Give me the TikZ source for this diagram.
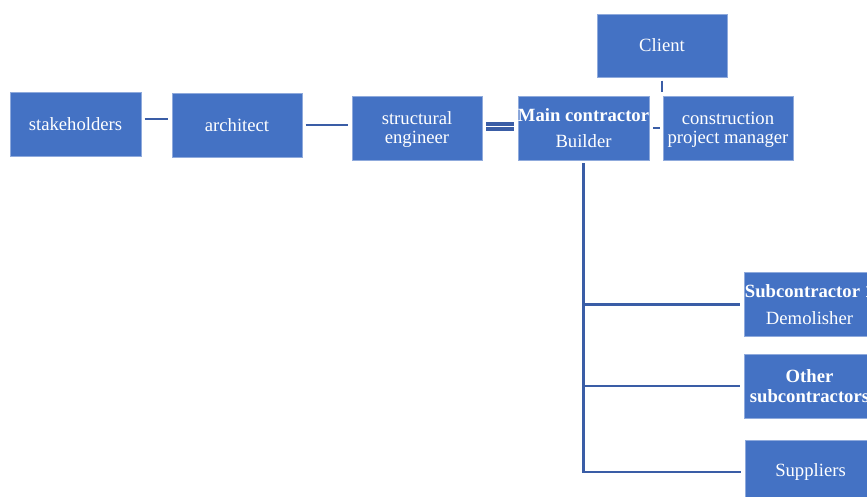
\documentclass[tikz,border=0pt]{standalone}
\usepackage{fontspec}
\setmainfont{Liberation Serif}
\definecolor{boxblue}{HTML}{4472C4}
\definecolor{boxedge}{HTML}{8FAADC}
\definecolor{linkblue}{HTML}{3A5DA6}
\begin{document}
\begin{tikzpicture}[x=0.75pt,y=-0.75pt,
  orgbox/.style={draw=boxedge,line width=0.5pt,fill=boxblue,text=white,inner sep=0pt,align=center,
    minimum width=97.5pt,minimum height=48pt,font=\fontsize{14}{14.5}\selectfont},
  link/.style={draw=linkblue,line width=2pt,shorten <=2.5pt,shorten >=2.5pt},
  branch/.style={draw=linkblue,line width=1.8pt}]
\clip (0,0) rectangle (867,496);
\useasboundingbox (0,0) rectangle (867,496);
\fill[white] (0,0) rectangle (867,496);
\node[orgbox,minimum width=98pt] (sh) at (75.5,124) {stakeholders};
\node[orgbox] (ar) at (237,125) {architect};
\node[orgbox] (se) at (417,128) {\rule{0pt}{12pt}structural\\engineer};
\node[orgbox,minimum width=98pt,font=\fontsize{14}{20}\selectfont] (mc) at (583.5,128) {\textbf{Main contractor}\\Builder};
\node[orgbox] (pm) at (728,128) {\rule{0pt}{12pt}construction\\project manager};
\node[orgbox,minimum height=47pt] (cl) at (662,45.5) {Client};
\node[orgbox,minimum width=98pt,font=\fontsize{14}{20}\selectfont] (s1) at (809.5,304.5) {\textbf{Subcontractor 1}\\Demolisher};
\node[orgbox,minimum width=98pt] (os) at (809.5,386) {\textbf{Other}\\\textbf{subcontractors}};
\node[orgbox,minimum width=98pt] (su) at (810.5,472) {Suppliers};
% horizontal chain
\draw[link] ([yshift=3.75pt]sh.east) -- ([yshift=3.75pt]sh.east -| ar.west);
\draw[link] (ar.east) -- (ar.east -| se.west);
\draw[draw=linkblue,line width=3.2pt,double=white,double distance=0.7pt,shorten <=3pt,shorten >=2.5pt] ([yshift=1pt]se.east) -- ([yshift=1pt]mc.west);
\draw[link,shorten <=3pt,shorten >=2.3pt] (mc.east) -- (pm.west);
\draw[link] (cl.south) -- (cl.south |- pm.north);
% tree below main contractor
\coordinate (bend) at (mc.south |- su.west);
\draw[branch,shorten <=2.3pt] (mc.south) -- (bend) -- ([xshift=-3pt]su.west);
\draw[branch,shorten >=3pt] (mc.south |- s1.west) -- (s1.west);
\draw[branch,shorten >=3pt] (mc.south |- os.west) -- (os.west);
\end{tikzpicture}
\end{document}
